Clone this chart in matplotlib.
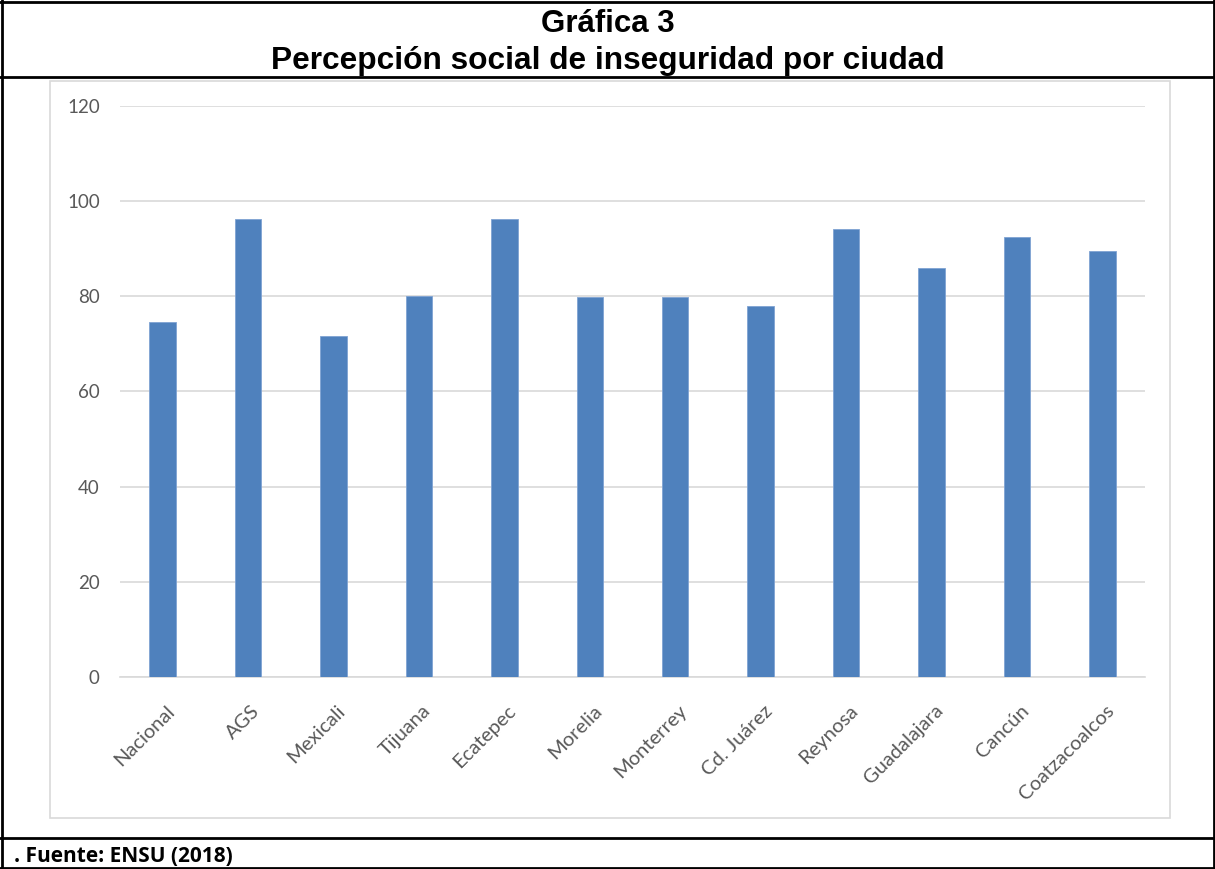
import matplotlib
matplotlib.use('Agg')
from matplotlib import pyplot as plt
from matplotlib.patches import Rectangle
from matplotlib.lines import Line2D
from matplotlib.transforms import ScaledTranslation

ciudades = ['Nacional', 'AGS', 'Mexicali', 'Tijuana', 'Ecatepec', 'Morelia',
            'Monterrey', 'Cd. Juárez', 'Reynosa', 'Guadalajara', 'Cancún',
            'Coatzacoalcos']
percepcion = [74.6, 96.1, 71.7, 80.0, 96.1, 79.7, 79.7, 78.0, 94.1, 85.9, 92.5, 89.4]
yticks = [0, 20, 40, 60, 80, 100, 120]

W, H = 1215, 869
fig = plt.figure(figsize=(W / 100, H / 100), dpi=100)

# plot area in pixel coords
left, right, top, bottom = 120, 1145, 105.6, 677
ax = fig.add_axes([left / W, 1 - bottom / H, (right - left) / W, (bottom - top) / H])

x = range(len(ciudades))
ax.bar(x, percepcion, width=0.31, color='#4F81BD', edgecolor='#7FA3D3', linewidth=0.6, zorder=3)
ax.set_xlim(-0.5, len(ciudades) - 0.5)
ax.set_ylim(0, 120)
ax.set_yticks(yticks)
ax.yaxis.grid(True, color='#D9D9D9', linewidth=1.2, zorder=0)
for s in ['top', 'right', 'left']:
    ax.spines[s].set_visible(False)
ax.spines['bottom'].set_color('#D9D9D9')
ax.spines['bottom'].set_linewidth(1.2)
ax.tick_params(axis='y', length=0, colors='#595959', labelsize=13.5, pad=14.5)
ax.tick_params(axis='x', length=0, colors='#595959', labelsize=14.5, pad=18)
ax.set_xticks(list(x))
ax.set_xticklabels(ciudades, rotation=45, ha='right', rotation_mode='anchor', fontfamily='Lato')
# nudge the rotated labels a little to the right
shift = ScaledTranslation(3 / 100, 0, fig.dpi_scale_trans)
for lab in ax.get_xticklabels():
    lab.set_transform(lab.get_transform() + shift)
for lab in ax.get_yticklabels():
    lab.set_fontfamily('Lato')

# light gray frame around the chart
fig.add_artist(Rectangle((50 / W, 1 - 818 / H), (1170 - 50) / W, (818 - 81) / H,
                         transform=fig.transFigure, fill=False, edgecolor='#D9D9D9', linewidth=1.2))

# black table lines
def hline(y, x0=0, x1=W):
    fig.add_artist(Line2D([x0 / W, x1 / W], [1 - y / H, 1 - y / H], color='black', linewidth=2,
                          transform=fig.transFigure))

def vline(x, y0=0, y1=H):
    fig.add_artist(Line2D([x / W, x / W], [1 - y0 / H, 1 - y1 / H], color='black', linewidth=2,
                          transform=fig.transFigure))

hline(1.5)
hline(77)
hline(838)
hline(867.5)
vline(1.5)
vline(1213.5)

fig.text(0.5, 1 - 32 / H, 'Gráfica 3', ha='center', va='baseline', fontsize=22.5,
         fontweight='bold', fontfamily='Liberation Sans')
fig.text(0.5, 1 - 69 / H, 'Percepción social de inseguridad por ciudad', ha='center', va='baseline',
         fontsize=22.8, fontweight='bold', fontfamily='Liberation Sans')
fig.text(14 / W, 1 - 862 / H, '. Fuente: ENSU (2018)', ha='left', va='baseline', fontsize=15,
         fontweight='bold', fontfamily='Open Sans')

fig.savefig('out.png', dpi=100)
